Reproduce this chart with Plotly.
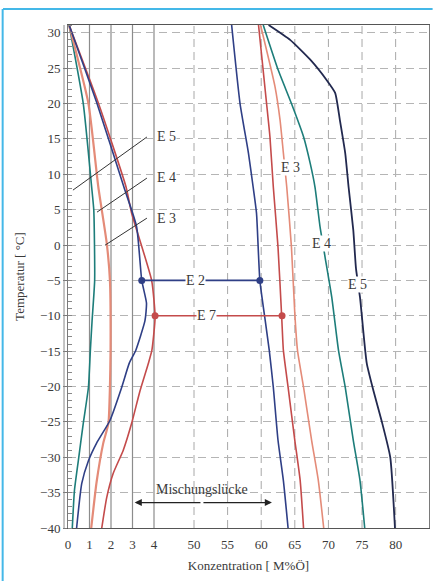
import plotly.graph_objects as go

# ---------------- data (concentration in M%Ö, temperature in °C) ----------------
x_ticks = [0, 1, 2, 3, 4, 50, 55, 60, 65, 70, 75, 80]
x_tick_text = ["0", "1", "2", "3", "4", "50", "55", "60", "65", "70", "75", "80"]
y_ticks = [30, 25, 20, 15, 10, 5, 0, -5, -10, -15, -20, -25, -30, -35, -40]

# low-concentration branches
e2_low_T = [31.1, 20, 8.2, 2.6, -5, -8.2, -10.7, -14.9, -16.7, -20.1, -24.8, -28, -30.5, -33.7, -40]
e2_low_c = [0.05, 1.35, 2.6, 3.19, 3.43, 3.65, 3.58, 3.15, 2.85, 2.5, 1.95, 1.33, 0.95, 0.64, 0.4]
e7_low_T = [31.1, 20, 8.2, 4.5, -5, -10.2, -14.9, -16.7, -20.6, -25.2, -29, -32.3, -35.7, -40]
e7_low_c = [0.05, 1.42, 2.7, 2.96, 3.89, 4.05, 3.9, 3.74, 3.35, 2.96, 2.57, 2.1, 1.8, 1.57]
e3_low_T = [31.1, 20, 8.2, 0.3, -5, -14.9, -20.1, -25.2, -28, -33.5, -40]
e3_low_c = [0.05, 0.95, 1.41, 1.8, 1.95, 1.98, 1.95, 1.88, 1.64, 1.33, 1.08]
e4_low_T = [31.1, 20, 8.2, 4.9, -5, -10.7, -14.9, -20.1, -25.2, -30.5, -34.7, -40]
e4_low_c = [0.05, 0.71, 1.1, 1.2, 1.24, 1.12, 1.04, 0.95, 0.71, 0.48, 0.3, 0.2]

# high-concentration branches
e2_high_T = [31.1, 20, 13, 8.2, 4.5, -5, -10.7, -14.9, -20.1, -27.6, -33.3, -40]
e2_high_c = [55.6, 56.85, 58.1, 58.8, 59.3, 59.8, 60.6, 61.2, 61.8, 62.5, 63.3, 64.0]
e7_high_T = [31.1, 20, 15.3, 8.2, -0.3, -10.2, -14.9, -20.1, -27.6, -33.3, -40]
e7_high_c = [59.6, 60.8, 61.3, 61.8, 62.5, 63.05, 63.3, 64.0, 65.0, 65.8, 66.3]
e3_high_T = [31.1, 22.4, 17.7, 13, 8.2, -0.3, -9.7, -14.9, -20.1, -27.6, -33.3, -40]
e3_high_c = [59.9, 62.05, 62.8, 63.3, 63.8, 64.5, 65.0, 65.4, 66.3, 67.5, 68.5, 69.3]
e4_high_T = [31.1, 24.8, 20, 15.3, 11.5, 8.2, 2.6, -1.7, -7.4, -14.9, -20.1, -27.6, -33.3, -40]
e4_high_c = [60.3, 62.5, 64.5, 66.3, 67.3, 68.0, 68.75, 69.5, 70.5, 71.5, 72.5, 73.7, 74.7, 75.4]
e5_high_T = [31.1, 29, 26.2, 23.3, 21.5, 17.7, 13, 8.2, 2.1, -3.3, -7.4, -16.7, -20.6, -24.8, -30, -40]
e5_high_c = [61.1, 64.3, 67.3, 69.75, 71.0, 71.7, 72.5, 73.0, 73.7, 74.1, 74.7, 75.7, 76.7, 77.9, 79.2, 79.9]

# marked points (E 2 at -5 °C, E 7 at -10 °C)
e2_mark_c = [3.43, 59.8]
e2_mark_T = [-5, -5]
e7_mark_c = [4.05, 63.1]
e7_mark_T = [-10, -10]


# broken concentration axis: 0..4 linear, then 50..85 compressed
def X(v):
    if v <= 5:
        return v
    return 5.86 + (v - 50) * 0.3126


def XL(vals):
    return [X(v) for v in vals]


C_BLUE = "#2f3f86"
C_NAVY = "#22294f"
C_RED = "#c44b4b"
C_SALMON = "#e48b78"
C_TEAL = "#1d7d7a"
FONT = "Liberation Serif"
TXT = "#3a3a3a"

fig = go.Figure()


def add_line(c, T, color, width=1.6):
    fig.add_trace(go.Scatter(x=XL(c), y=T, mode="lines",
                             line=dict(color=color, width=width, shape="spline", smoothing=0.5),
                             hoverinfo="skip", showlegend=False))


add_line(e4_low_c, e4_low_T, C_TEAL)
add_line(e3_low_c, e3_low_T, C_SALMON, 2.2)
add_line(e7_low_c, e7_low_T, C_RED)
add_line(e2_low_c, e2_low_T, C_BLUE)
add_line(e2_high_c, e2_high_T, C_BLUE)
add_line(e7_high_c, e7_high_T, C_RED)
add_line(e3_high_c, e3_high_T, C_SALMON)
add_line(e4_high_c, e4_high_T, C_TEAL)
add_line(e5_high_c, e5_high_T, C_NAVY, 1.8)

# E 2 / E 7 connection lines with markers
fig.add_trace(go.Scatter(x=XL(e2_mark_c), y=e2_mark_T, mode="lines+markers",
                         line=dict(color=C_BLUE, width=1.6), marker=dict(color=C_BLUE, size=7),
                         hoverinfo="skip", showlegend=False))
fig.add_trace(go.Scatter(x=XL(e7_mark_c), y=e7_mark_T, mode="lines+markers",
                         line=dict(color=C_RED, width=1.6), marker=dict(color=C_RED, size=7),
                         hoverinfo="skip", showlegend=False))

shapes = []
# vertical grid lines
for v in x_ticks[1:]:
    if v <= 4:
        shapes.append(dict(type="line", xref="x", yref="paper", x0=X(v), x1=X(v), y0=0, y1=1,
                           line=dict(color="#8c8c8c", width=1.2), layer="below"))
    else:
        shapes.append(dict(type="line", xref="x", yref="paper", x0=X(v), x1=X(v), y0=0, y1=1,
                           line=dict(color="#a8a8a8", width=1, dash="8px,5px"), layer="below"))
# ruler second line on the temperature axis
shapes.append(dict(type="line", xref="paper", yref="paper", x0=-0.011, x1=-0.011, y0=0, y1=1,
                   line=dict(color="#8a8a8a", width=1)))
# leader lines for left labels
leaders = [((3.67, 15.27), (0.23, 7.76)), ((3.67, 9.46), (1.35, 4.65)), ((3.67, 3.8), (1.72, -0.03))]
for (a, b) in leaders:
    shapes.append(dict(type="line", xref="x", yref="y", x0=a[0], y0=a[1], x1=b[0], y1=b[1],
                       line=dict(color="#333333", width=1)))
# light blue page frame
shapes.append(dict(type="line", xref="paper", yref="paper", x0=-0.18, x1=1.01, y0=1.0318, y1=1.0318,
                   line=dict(color="#44b8e8", width=2)))
shapes.append(dict(type="line", xref="paper", yref="paper", x0=-0.181, x1=-0.181, y0=1.0318, y1=-0.11,
                   line=dict(color="#44b8e8", width=2)))

ann = []


def label(text, x, y, size=14):
    ann.append(dict(text=text, x=x, y=y, xref="x", yref="y", showarrow=False,
                    font=dict(family=FONT, size=size, color=TXT), bgcolor="white",
                    borderpad=0))


label("E 5", 4.6, 15.4)
label("E 4", 4.6, 9.5)
label("E 3", 4.6, 3.7)
label("E 2", 5.95, -5)
label("E 7", 6.45, -10)
label("E 3", X(64.3), 11.0)
label("E 4", X(69.0), 0.2)
label("E 5", X(74.4), -5.6)

# Mischungslücke
mid_x = 6.23
ann.append(dict(text="Mischungslücke", x=mid_x, y=-34.5, xref="x", yref="y", showarrow=False,
                font=dict(family=FONT, size=14, color=TXT)))
for tip in [X(3.1), X(61.6)]:
    ann.append(dict(text="", x=tip, y=-36.4, ax=mid_x, ay=-36.4, xref="x", yref="y",
                    axref="x", ayref="y", showarrow=True, arrowhead=2, arrowsize=1.1,
                    arrowwidth=1.3, arrowcolor="#222222"))

fig.update_layout(
    width=438, height=581,
    margin=dict(l=68, r=9, t=25, b=53, autoexpand=False),
    paper_bgcolor="white", plot_bgcolor="white",
    showlegend=False,
    shapes=shapes, annotations=ann,
    xaxis=dict(range=[0, 16.79], tickvals=XL(x_ticks), ticktext=x_tick_text, automargin=False,
               showgrid=False, zeroline=False, showline=True, linecolor="#555555", linewidth=1,
               mirror=True, ticks="", ticklabelstandoff=4,
               tickfont=dict(family=FONT, size=13, color=TXT),
               title=dict(text="Konzentration [ M%Ö]", font=dict(family=FONT, size=13, color=TXT),
                          standoff=10)),
    yaxis=dict(range=[-40, 31.1], tickvals=y_ticks, showgrid=True, gridcolor="#b5b5b5",
               griddash="8px,5px", gridwidth=1, zeroline=False, automargin=False,
               showline=True, linecolor="#7a7a7a", linewidth=1, mirror=True,
               ticks="outside", ticklen=4, tickcolor="#777777",
               minor=dict(dtick=1, ticks="inside", ticklen=4, tickcolor="#888888", showgrid=False),
               tickfont=dict(family=FONT, size=13, color=TXT),
               title=dict(text="Temperatur [ °C]", font=dict(family=FONT, size=13, color=TXT),
                          standoff=12)),
)

fig.write_html("out.html", config={"displayModeBar": False},
               post_script="document.body.style.margin='0px';")
